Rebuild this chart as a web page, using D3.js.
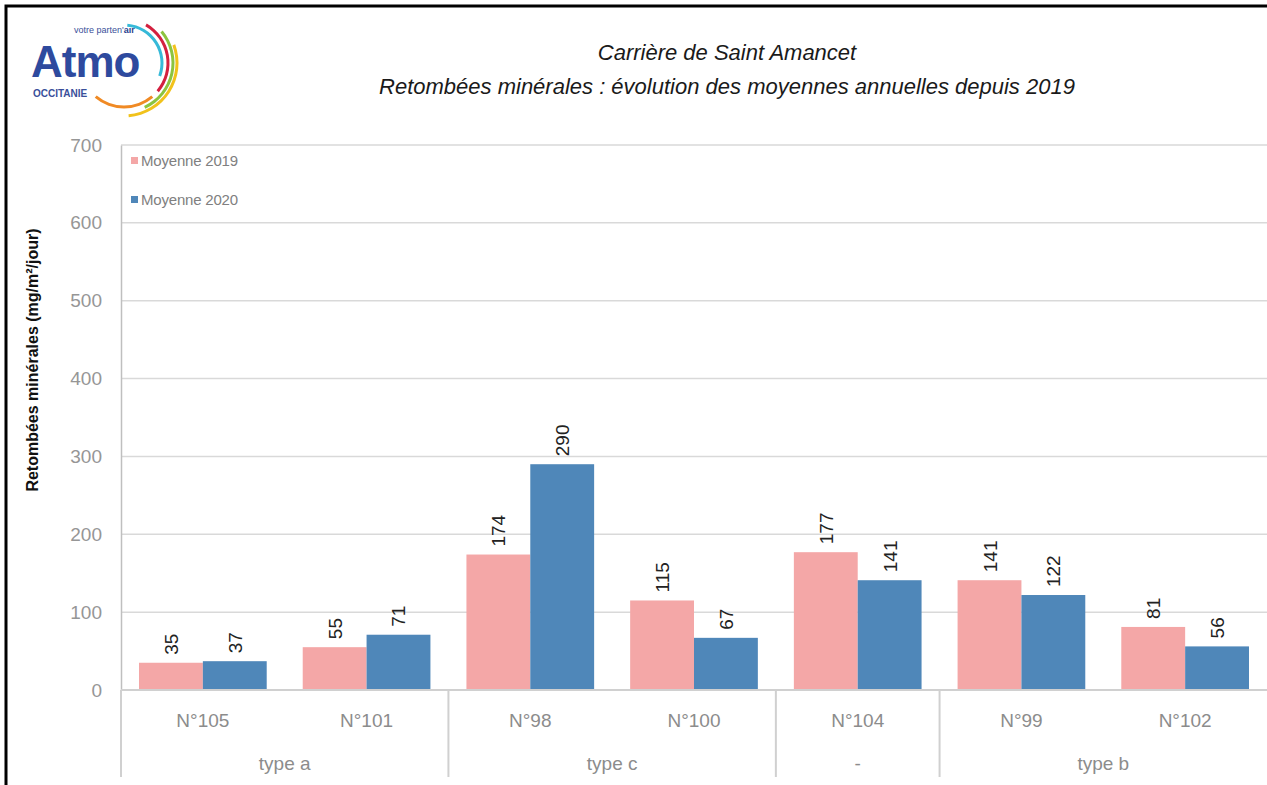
<!DOCTYPE html>
<html>
<head>
<meta charset="utf-8">
<script src="https://cdn.jsdelivr.net/npm/d3@7"></script>
<style>
  body { margin: 0; background: #fff; }
  svg { display: block; font-family: "Liberation Sans", Arial, sans-serif; }
</style>
</head>
<body>
<div id="chart"></div>
<script>
// donnees
var stations = ["N°105", "N°101", "N°98", "N°100", "N°104", "N°99", "N°102"];
var groupes  = ["type a", "type a", "type c", "type c", "-", "type b", "type b"];
var series   = ["Moyenne 2019", "Moyenne 2020"];
var moy2019  = [35, 55, 174, 115, 177, 141, 81];
var moy2020  = [37, 71, 290, 67, 141, 122, 56];
var yTicks   = [0, 100, 200, 300, 400, 500, 600, 700];
var couleurs = ["#f4a7a7", "#4f87b9"];

var W = 1267, H = 785;
var plot = { left: 121, right: 1267, top: 145, bottom: 690 };

var svg = d3.select("#chart").append("svg")
    .attr("width", W)
    .attr("height", H);

// cadre noir (bords haut et gauche visibles)
svg.append("rect")
    .attr("x", 6).attr("y", 6)
    .attr("width", W + 20).attr("height", H + 20)
    .attr("fill", "none")
    .attr("stroke", "#000")
    .attr("stroke-width", 3);

var x0 = d3.scaleBand().domain(stations).range([plot.left, plot.right]);
var bw = x0.bandwidth();
var x1 = d3.scaleBand().domain(series).range([bw * 0.11, bw * 0.89]);
var y  = d3.scaleLinear().domain([0, 700]).range([plot.bottom, plot.top]);

// grille
svg.append("g")
    .selectAll("line")
    .data(yTicks.filter(d => d > 0))
    .enter().append("line")
        .attr("x1", plot.left).attr("x2", plot.right)
        .attr("y1", d => y(d)).attr("y2", d => y(d))
        .attr("stroke", "#d9d9d9")
        .attr("stroke-width", 1.5);

// axe y
var yAxis = svg.append("g")
    .attr("transform", "translate(" + plot.left + ",0)")
    .call(d3.axisLeft(y).tickValues(yTicks).tickSize(0).tickPadding(19));
yAxis.select(".domain").attr("stroke", "#bfbfbf").attr("stroke-width", 1.5);
yAxis.selectAll("text")
    .attr("font-size", "19px")
    .attr("fill", "#969696")
    .attr("font-family", "Liberation Sans, Arial, sans-serif");

// titre axe y
svg.append("text")
    .attr("transform", "translate(38,360) rotate(-90)")
    .attr("text-anchor", "middle")
    .attr("font-size", "16px")
    .attr("font-weight", "bold")
    .attr("fill", "#111")
    .text("Retombées minérales (mg/m²/jour)");

// barres
var data = stations.map((s, i) => ({ station: s, vals: [moy2019[i], moy2020[i]] }));

var grp = svg.append("g")
    .selectAll("g")
    .data(data)
    .enter().append("g")
        .attr("transform", d => "translate(" + x0(d.station) + ",0)");

grp.selectAll("rect")
    .data(d => d.vals.map((v, j) => ({ serie: series[j], v: v, j: j })))
    .enter().append("rect")
        .attr("x", d => x1(d.serie))
        .attr("y", d => y(d.v))
        .attr("width", x1.bandwidth())
        .attr("height", d => y(0) - y(d.v))
        .attr("fill", d => couleurs[d.j]);

grp.selectAll("text")
    .data(d => d.vals.map((v, j) => ({ serie: series[j], v: v })))
    .enter().append("text")
        .attr("transform", d => "translate(" + (x1(d.serie) + x1.bandwidth() / 2 + 7) + "," + (y(d.v) - 8) + ") rotate(-90)")
        .attr("font-size", "19px")
        .attr("fill", "#222")
        .text(d => d.v);

// axe x
svg.append("line")
    .attr("x1", plot.left).attr("x2", plot.right)
    .attr("y1", plot.bottom).attr("y2", plot.bottom)
    .attr("stroke", "#d0d0d0")
    .attr("stroke-width", 2);

svg.append("g")
    .selectAll("text")
    .data(stations)
    .enter().append("text")
        .attr("x", d => x0(d) + bw / 2)
        .attr("y", 727)
        .attr("text-anchor", "middle")
        .attr("font-size", "19px")
        .attr("fill", "#8c8c8c")
        .text(d => d);

// niveaux de regroupement
var blocs = [];
groupes.forEach((g, i) => {
    var last = blocs[blocs.length - 1];
    if (last && last.nom === g) last.fin = i;
    else blocs.push({ nom: g, debut: i, fin: i });
});

svg.append("g")
    .selectAll("text")
    .data(blocs)
    .enter().append("text")
        .attr("x", d => (x0(stations[d.debut]) + x0(stations[d.fin]) + bw) / 2)
        .attr("y", 770)
        .attr("text-anchor", "middle")
        .attr("font-size", "19px")
        .attr("fill", "#8c8c8c")
        .text(d => d.nom);

svg.append("g")
    .selectAll("line")
    .data(blocs)
    .enter().append("line")
        .attr("x1", d => x0(stations[d.debut]))
        .attr("x2", d => x0(stations[d.debut]))
        .attr("y1", plot.bottom).attr("y2", 777)
        .attr("stroke", "#d0d0d0")
        .attr("stroke-width", 2);

// legende
var leg = svg.append("g")
    .selectAll("g")
    .data(series)
    .enter().append("g")
        .attr("transform", (d, i) => "translate(131," + (161 + i * 39) + ")");
leg.append("rect")
    .attr("x", 0).attr("y", -4)
    .attr("width", 7).attr("height", 7)
    .attr("fill", (d, i) => couleurs[i]);
leg.append("text")
    .attr("x", 10).attr("y", 5)
    .attr("font-size", "15px")
    .attr("fill", "#808080")
    .attr("letter-spacing", "-0.2px")
    .text(d => d);

// titre
var titre = svg.append("g").attr("font-style", "italic").attr("font-size", "22px").attr("fill", "#1a1a1a");
titre.append("text").attr("x", 727).attr("y", 60).attr("text-anchor", "middle")
    .text("Carrière de Saint Amancet");
titre.append("text").attr("x", 727).attr("y", 94).attr("text-anchor", "middle")
    .text("Retombées minérales : évolution des moyennes annuelles depuis 2019");

// logo Atmo
var logo = svg.append("g");
logo.append("text").attr("x", 74).attr("y", 33)
    .attr("font-size", "9px").attr("fill", "#3a4f9a")
    .html("votre parten'<tspan font-weight='bold' fill='#2b3f8f'>air</tspan>");
logo.append("text").attr("x", 31).attr("y", 77)
    .attr("font-size", "44px").attr("font-weight", "bold").attr("fill", "#2e4a9e")
    .attr("letter-spacing", "-1px")
    .text("Atmo");
logo.append("text").attr("x", 33).attr("y", 97)
    .attr("font-size", "10px").attr("font-weight", "bold").attr("fill", "#3a4f9a")
    .text("OCCITANIE");

var arcs = [
    { r: 38, a0: 5, a1: 110, c: "#36b9d8" },
    { r: 44, a0: 30, a1: 130, c: "#d3203f" },
    { r: 49, a0: 50, a1: 155, c: "#8cc43f" },
    { r: 53, a0: 70, a1: 175, c: "#f1c21b" },
    { r: 44, a0: 140, a1: 220, c: "#f08a24" }
];
var arcGen = d3.arc();
logo.append("g")
    .attr("transform", "translate(124,63)")
    .selectAll("path")
    .data(arcs)
    .enter().append("path")
        .attr("d", d => arcGen({ innerRadius: d.r - 1.5, outerRadius: d.r + 1.5,
                                  startAngle: d.a0 * Math.PI / 180, endAngle: d.a1 * Math.PI / 180 }))
        .attr("fill", d => d.c);
</script>
</body>
</html>
